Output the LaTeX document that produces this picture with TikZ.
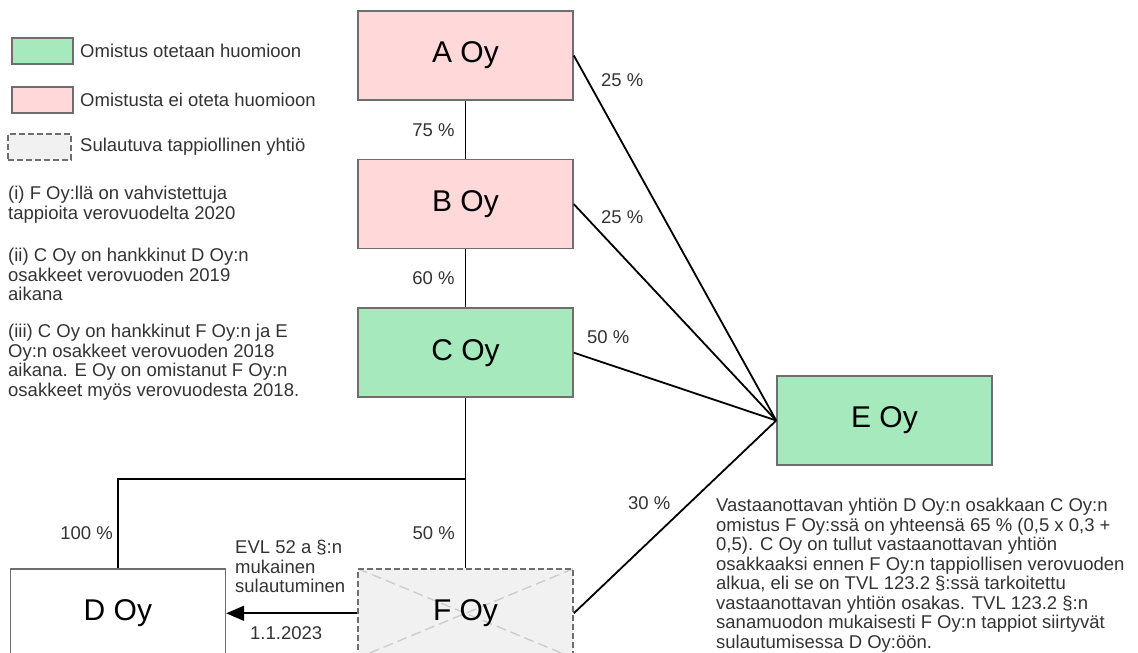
\documentclass[tikz,border=0pt]{standalone}
\usepackage{fontspec}
\setmainfont{Liberation Sans}
\usetikzlibrary{positioning,arrows.meta}

\definecolor{owngreen}{RGB}{165,233,188}
\definecolor{ownpink}{RGB}{255,217,217}
\definecolor{mergegray}{RGB}{241,241,241}
\definecolor{edgegray}{RGB}{110,110,110}
\definecolor{crossgray}{RGB}{205,205,205}
\definecolor{labelgray}{RGB}{51,51,51}

\begin{document}
\begin{tikzpicture}[x=1pt, y=-1pt,
    company/.style={draw=edgegray, line width=1.6pt, minimum width=215pt, minimum height=89pt, inner sep=0pt, font=\fontsize{30}{33}\selectfont},
    counted/.style={company, fill=owngreen},
    notcounted/.style={company, fill=ownpink},
    merging/.style={company, fill=mergegray, dash pattern=on 6pt off 3pt,
      path picture={\draw[crossgray, line width=1.4pt, dash pattern=on 10pt off 5pt]
        (path picture bounding box.north west) -- (path picture bounding box.south east)
        (path picture bounding box.north east) -- (path picture bounding box.south west);}},
    keybox/.style={draw=edgegray, line width=1.6pt, minimum width=61pt, minimum height=26pt, inner sep=0pt},
    pct/.style={text=labelgray, inner sep=0pt, font=\fontsize{18.5}{19.5}\selectfont},
    note/.style={pct, align=left, anchor=north west},
    owns/.style={line width=1.8pt}]
    \useasboundingbox (0,0) rectangle (1138,653);

    \node[keybox, fill=owngreen] (keycounted) at (42.5,51) {};
    \node[pct, anchor=west] (keycountedtxt) at (80,51) {Omistus otetaan huomioon};
    \node[keybox, fill=ownpink] (keynotcounted) at (42.5,100) {};
    \node[pct, anchor=west] (keynotcountedtxt) at (80,100) {Omistusta ei oteta huomioon};
    \node[keybox, fill=mergegray, dash pattern=on 6pt off 3pt, minimum width=63pt] (keymerging) at (39.5,147) {};
    \node[pct, anchor=west] (keymergingtxt) at (80,147) {Sulautuva tappiollinen yhtiö};

    \node[note] (notei) at (8,186) {(i) F Oy:llä on vahvistettuja\\tappioita verovuodelta 2020};
    \node[note] (noteii) at (8,248) {(ii) C Oy on hankkinut D Oy:n\\osakkeet verovuoden 2019\\aikana};
    \node[note] (noteiii) at (8,324) {(iii) C Oy on hankkinut F Oy:n ja E\\Oy:n osakkeet verovuoden 2018\\aikana. E Oy on omistanut F Oy:n\\osakkeet myös verovuodesta 2018.};

    \node[notcounted] (aoy) at (465.5,55.5) {A Oy};
    \node[notcounted, below=58pt of aoy] (boy) {B Oy};
    \node[counted, below=58pt of boy] (coy) {C Oy};
    \node[counted] (eoy) at (884.5,420.5) {E Oy};
    \node[merging, below=170pt of coy] (foy) {F Oy};
    \node[company, fill=white, left=131pt of foy] (doy) {D Oy};
    \coordinate (cjoin) at (465.5,479);

    \draw[owns] (aoy) -- node[pct, left=10pt] {75 \%} (boy);
    \draw[owns] (boy) -- node[pct, left=10pt] {60 \%} (coy);
    \draw[owns] (coy) -- (foy);
    \draw[owns] (cjoin) -| (doy);
    \draw[owns] (aoy.east) -- (eoy.west);
    \draw[owns] (boy.east) -- (eoy.west);
    \draw[owns] (coy.east) -- (eoy.west);
    \draw[owns] (foy.east) -- (eoy.west);
    \draw[owns, -{Triangle[length=18pt, width=15pt]}] (foy) -- (doy);

    \node[pct, anchor=east] (pctfc) at (455,533) {50 \%};
    \node[pct, anchor=east] (pctdc) at (113,533) {100 \%};
    \node[pct, anchor=west] (pctea) at (601,80) {25 \%};
    \node[pct, anchor=west] (pcteb) at (601,217) {25 \%};
    \node[pct, anchor=west] (pctec) at (587,337) {50 \%};
    \node[pct, anchor=west] (pctfe) at (628,503) {30 \%};

    \node[note] (mergetxt) at (235,540) {EVL 52 a §:n\\mukainen\\sulautuminen};
    \node[pct, anchor=west] (mergedate) at (250,633) {1.1.2023};

    \node[note] (result) at (716,498) {Vastaanottavan yhtiön D Oy:n osakkaan C Oy:n\\omistus F Oy:ssä on yhteensä 65 \% (0,5 x 0,3 +\\0,5). C Oy on tullut vastaanottavan yhtiön\\osakkaaksi ennen F Oy:n tappiollisen verovuoden\\alkua, eli se on TVL 123.2 §:ssä tarkoitettu\\vastaanottavan yhtiön osakas. TVL 123.2 §:n\\sanamuodon mukaisesti F Oy:n tappiot siirtyvät\\sulautumisessa D Oy:öön.};
\end{tikzpicture}
\end{document}
